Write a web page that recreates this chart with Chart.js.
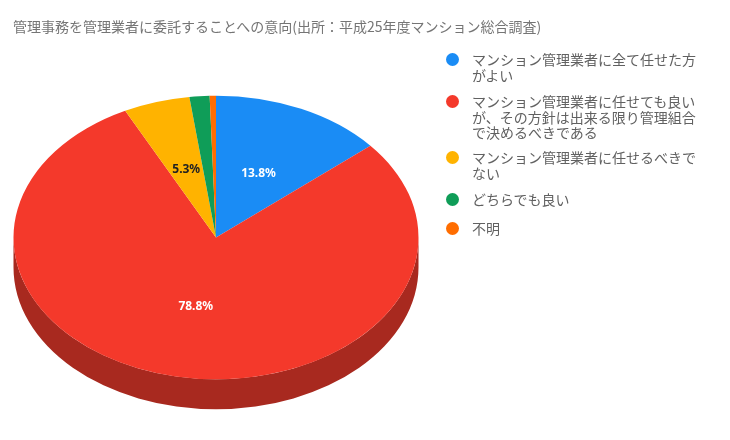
<!DOCTYPE html>
<html>
<head>
<meta charset="utf-8">
<script src="https://cdn.jsdelivr.net/npm/chart.js"></script>
<style>
  body { margin:0; background:#fff; font-family:"Noto Sans CJK JP","Noto Sans",sans-serif; }
  #wrap { position:relative; width:730px; height:440px; }
  #title { position:absolute; left:13px; top:16px; font-size:14px; color:#757575; white-space:nowrap; }
  .leg { position:absolute; left:446px; font-size:14px; color:#616161; line-height:15.5px; padding-left:26px; }
  .leg i { position:absolute; left:0; top:1px; width:13px; height:13px; border-radius:50%; }
</style>
</head>
<body>
<div id="wrap">
  <canvas id="c" width="730" height="440"></canvas>
  <div id="title">管理事務を管理業者に委託することへの意向(出所：平成25年度マンション総合調査)</div>
  <div id="legend"></div>
</div>
<script>
  // データ
  const labels = [
    'マンション管理業者に全て任せた方<br>がよい',
    'マンション管理業者に任せても良い<br>が、その方針は出来る限り管理組合<br>で決めるべきである',
    'マンション管理業者に任せるべきで<br>ない',
    'どちらでも良い',
    '不明'
  ];
  const values = [13.8, 78.8, 5.3, 1.6, 0.5];
  const colors = ['#1a8cf5', '#f4392b', '#ffb300', '#0f9d58', '#ff6d00'];
  const sideColors = ['#1266b0', '#a8291f', '#b37d00', '#0a6e3e', '#b34c00'];
  const legendTops = [52, 94, 150, 192, 221];

  const K = 0.7;     // 楕円の縦比
  const DEPTH = 30;  // 立体の厚み

  const legend = document.getElementById('legend');
  labels.forEach((t, i) => {
    const d = document.createElement('div');
    d.className = 'leg';
    d.style.top = legendTops[i] + 'px';
    d.innerHTML = '<i style="background:' + colors[i] + '"></i>' + t;
    legend.appendChild(d);
  });

  const pie3d = {
    id: 'pie3d',
    beforeDatasetsDraw(chart) {
      const ctx = chart.ctx;
      const arcs = chart.getDatasetMeta(0).data;
      const cx = arcs[0].x, cy = arcs[0].y, r = arcs[0].outerRadius;
      // 側面
      arcs.forEach((a, i) => {
        const norm = v => { let x = v % (2 * Math.PI); if (x < 0) x += 2 * Math.PI; return x; };
        let s = norm(a.startAngle), e = s + (a.endAngle - a.startAngle);
        const segs = [[s, e], [s - 2 * Math.PI, e - 2 * Math.PI]];
        segs.forEach(([s0, e0]) => {
          const a0 = Math.max(0, s0), a1 = Math.min(Math.PI, e0);
          if (a1 <= a0) return;
          ctx.beginPath();
          ctx.ellipse(cx, cy, r, r * K, 0, a0, a1);
          ctx.ellipse(cx, cy + DEPTH, r, r * K, 0, a1, a0, true);
          ctx.closePath();
          ctx.fillStyle = sideColors[i];
          ctx.fill();
        });
      });
      ctx.save();
      ctx.translate(cx, cy);
      ctx.scale(1, K);
      ctx.translate(-cx, -cy);
    },
    afterDatasetsDraw(chart) {
      const ctx = chart.ctx;
      ctx.restore();
      const arcs = chart.getDatasetMeta(0).data;
      ctx.font = 'bold 12px "Noto Sans", sans-serif';
      ctx.textAlign = 'center';
      ctx.textBaseline = 'middle';
      arcs.forEach((a, i) => {
        if (values[i] < 5) return;
        const p = a.tooltipPosition();
        const y = a.y + (p.y - a.y) * K;
        ctx.fillStyle = i === 2 ? '#222' : '#fff';
        ctx.fillText(values[i].toFixed(1) + '%', p.x, y);
      });
    }
  };

  new Chart(document.getElementById('c'), {
    type: 'pie',
    data: {
      labels: labels,
      datasets: [{ data: values, backgroundColor: colors, borderWidth: 0 }]
    },
    options: {
      responsive: false,
      animation: false,
      layout: { padding: { left: 13, right: 311, top: 35, bottom: 0 } },
      plugins: { legend: { display: false }, tooltip: { enabled: false } }
    },
    plugins: [pie3d]
  });
</script>
</body>
</html>
